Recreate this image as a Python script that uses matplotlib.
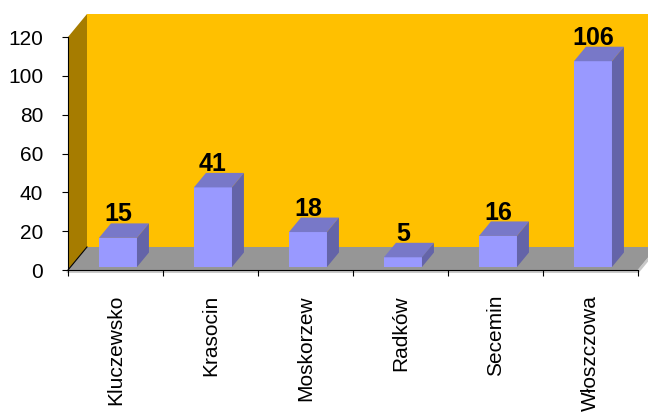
import numpy as np
import matplotlib
matplotlib.use("Agg")
import matplotlib.pyplot as plt
from matplotlib.patches import Polygon

plt.rcParams['font.family'] = ['Liberation Sans', 'DejaVu Sans']

categories = ["Kluczewsko", "Krasocin", "Moskorzew", "Radków", "Secemin", "Włoszczowa"]
values = [15, 41, 18, 5, 16, 106]
yticks = [0, 20, 40, 60, 80, 100, 120]

# 3D look: depth vector of the wall (in data units) and bar depth fractions
DX, DY = 0.2, 11.85
f0, f1 = 0.13, 0.76
bw = 0.4

fig = plt.figure(figsize=(6.48, 4.12), dpi=100)
ax = fig.add_axes([68/648, 142/412, 570/648, 233/412])
ax.set_xlim(-0.5, 5.5)
ax.set_ylim(0, 120)
ax.patch.set_visible(False)

n = len(categories)
x0, x1 = -0.5, n - 0.5

# walls and floor
ax.add_patch(Polygon([(x0 + DX, DY), (x1 + DX + 0.3, DY), (x1 + DX + 0.3, 120 + DY), (x0 + DX, 120 + DY)],
                     closed=True, fc='#FFC000', ec='none', clip_on=False, zorder=1))
ax.add_patch(Polygon([(x0, 0), (x0, 120), (x0 + DX, 120 + DY), (x0 + DX, DY)],
                     closed=True, fc='#A67C00', ec='none', clip_on=False, zorder=1))
ax.add_patch(Polygon([(x0, 0), (x1, 0), (x1 + DX, DY), (x0 + DX, DY)],
                     closed=True, fc='#969696', ec='none', clip_on=False, zorder=1))
ax.plot([x0, x1, x1 + DX], [-0.8, -0.8, DY - 0.8], color='#C8C8C8', lw=2, clip_on=False, zorder=1.5)
ax.plot([x0, x0 + DX], [0, DY], color='black', lw=0.8, clip_on=False, zorder=2)

# bars
for i, v in enumerate(values):
    xl = i - bw / 2 + f0 * DX
    xr = xl + bw
    yb = f0 * DY
    yt = v + f0 * DY
    ddx, ddy = (f1 - f0) * DX, (f1 - f0) * DY
    ax.add_patch(Polygon([(xl, yb), (xr, yb), (xr, yt), (xl, yt)],
                         closed=True, fc='#9999FF', ec='none', zorder=3))
    ax.add_patch(Polygon([(xl, yt), (xr, yt), (xr + ddx, yt + ddy), (xl + ddx, yt + ddy)],
                         closed=True, fc='#7878C8', ec='none', zorder=3, clip_on=False))
    ax.add_patch(Polygon([(xr, yb), (xr, yt), (xr + ddx, yt + ddy), (xr + ddx, yb + ddy)],
                         closed=True, fc='#6464A8', ec='none', zorder=3, clip_on=False))
    ax.text(i + f0 * DX, v + f1 * DY + 1.0, str(v), ha='center', va='baseline',
            fontsize=18, fontweight='bold', color='black', zorder=4)

# axes
for s in ['top', 'right']:
    ax.spines[s].set_visible(False)
ax.spines['left'].set_color('black')
ax.spines['bottom'].set_color('black')
ax.spines['left'].set_zorder(5)
ax.spines['bottom'].set_zorder(5)

ax.set_yticks(yticks)
ax.tick_params(axis='y', direction='out', length=4.3, width=0.8, pad=13.5, labelsize=15)
ax.set_xticks(range(n))
ax.set_xticklabels(categories, rotation=90, fontsize=15, va='top', ha='center')
ax.set_xticks(np.arange(n + 1) - 0.5, minor=True)
ax.tick_params(axis='x', which='major', length=0, pad=18)
ax.tick_params(axis='x', which='minor', direction='out', length=4.3, width=0.8)

fig.savefig("out.png", dpi=100, facecolor='white')
